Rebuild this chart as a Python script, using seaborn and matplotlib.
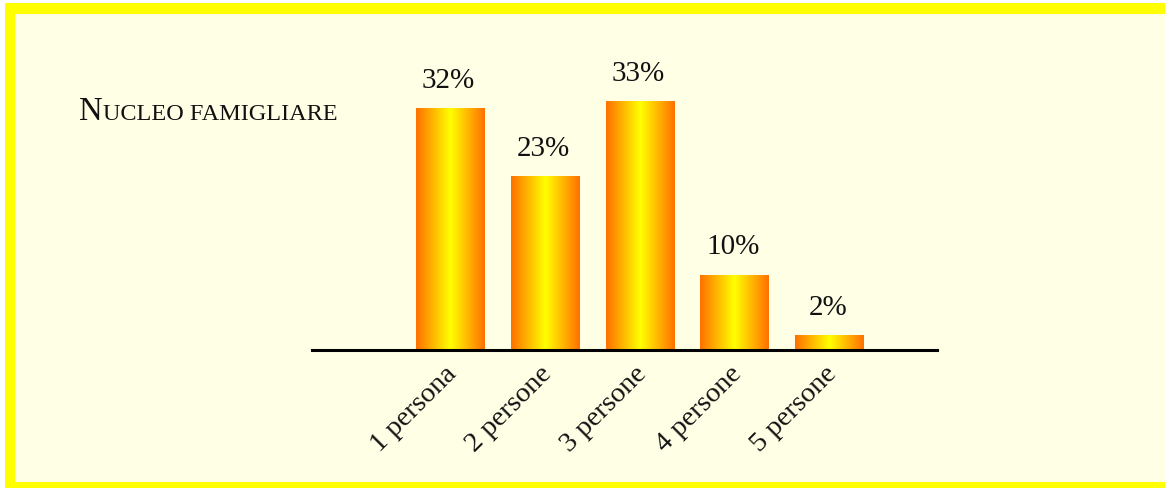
import numpy as np
import matplotlib
matplotlib.use("Agg")
import matplotlib.pyplot as plt
import seaborn as sns
from matplotlib.colors import LinearSegmentedColormap
from matplotlib.patches import Rectangle
from matplotlib.transforms import ScaledTranslation

# ---- data ----
categories = ["1 persona", "2 persone", "3 persone", "4 persone", "5 persone"]
values = [32, 23, 33, 10, 2]
value_labels = ["32%", "23%", "33%", "10%", "2%"]
title_initial = "N"
title_rest = "UCLEO FAMIGLIARE"

W, H = 1165, 488
SERIF = ["Liberation Serif", "DejaVu Serif"]
BG = "#FFFFE6"
BORDER = "#FFFF00"

sns.set_theme(style="white")
plt.rcParams["font.family"] = SERIF

fig = plt.figure(figsize=(W / 100, H / 100), dpi=100)
fig.patch.set_facecolor(BG)


def px_rect(x0, y0, x1, y1, color):
    """rectangle given in image pixel coordinates (y down)"""
    fig.patches.append(Rectangle((x0 / W, 1 - y1 / H), (x1 - x0) / W, (y1 - y0) / H,
                                 transform=fig.transFigure, facecolor=color,
                                 edgecolor="none", zorder=-3))


# white outer margin (left, top) and yellow frame (left, top, bottom)
px_rect(0, 0, 5, H, "white")
px_rect(0, 0, W, 3, "white")
px_rect(5, 3, 15, H, BORDER)
px_rect(5, 3, W, 14, BORDER)
px_rect(5, 482, W, H, BORDER)

ax = fig.add_axes([312 / W, (H - 350) / H, (937 - 312) / W, (350 - 40) / H])
ax.patch.set_visible(False)

sns.barplot(x=categories, y=values, ax=ax, width=0.72, color="#FFB000",
            edgecolor="none", saturation=1)

# gradient fill
cmap = LinearSegmentedColormap.from_list("og", ["#FF7000", "#FFFF00", "#FF7000"])
grad = np.linspace(0, 1, 256).reshape(1, -1)
for p in ax.patches:
    x0 = p.get_x()
    w = p.get_width()
    h = p.get_height()
    im = ax.imshow(grad, cmap=cmap, aspect="auto", extent=[x0, x0 + w, 0, h],
                   interpolation="bicubic", zorder=2)
    im.set_clip_path(p)
ax.set_xlim(-1.45, 5.13)
ax.set_ylim(0, 310 / 7.55)

# value labels
for i, (v, lab) in enumerate(zip(values, value_labels)):
    ax.annotate(lab, xy=(i, v), xytext=(-1, 14.5), textcoords="offset points",
                ha="center", va="baseline", fontsize=21, color="#111111",
                family=SERIF)

# axes styling
for s in ["top", "right", "left"]:
    ax.spines[s].set_visible(False)
ax.spines["bottom"].set_linewidth(2.2)
ax.spines["bottom"].set_color("black")
ax.set_yticks([])
ax.set_xlabel("")
ax.set_ylabel("")
ax.set_xticks(range(len(categories)))
ax.set_xticklabels(categories, rotation=45, ha="right", va="center",
                   rotation_mode="anchor", fontsize=20.5, family=SERIF, color="#111111")
ax.tick_params(axis="x", length=0, pad=14.5)
offset = ScaledTranslation(3 / 100, 0, fig.dpi_scale_trans)
for lab in ax.get_xticklabels():
    lab.set_transform(lab.get_transform() + offset)

# title in small caps
t1 = fig.text(79 / W, 1 - 127 / H, title_initial, fontsize=23.5, va="bottom",
              ha="left", family=SERIF, color="#111111")
ax.annotate(title_rest, xy=(1, 0), xycoords=t1, xytext=(0.5, 1.3),
            textcoords="offset points", va="bottom", ha="left", fontsize=17.5,
            family=SERIF, color="#111111", annotation_clip=False)

fig.savefig("out.png", dpi=100, facecolor=fig.get_facecolor())
